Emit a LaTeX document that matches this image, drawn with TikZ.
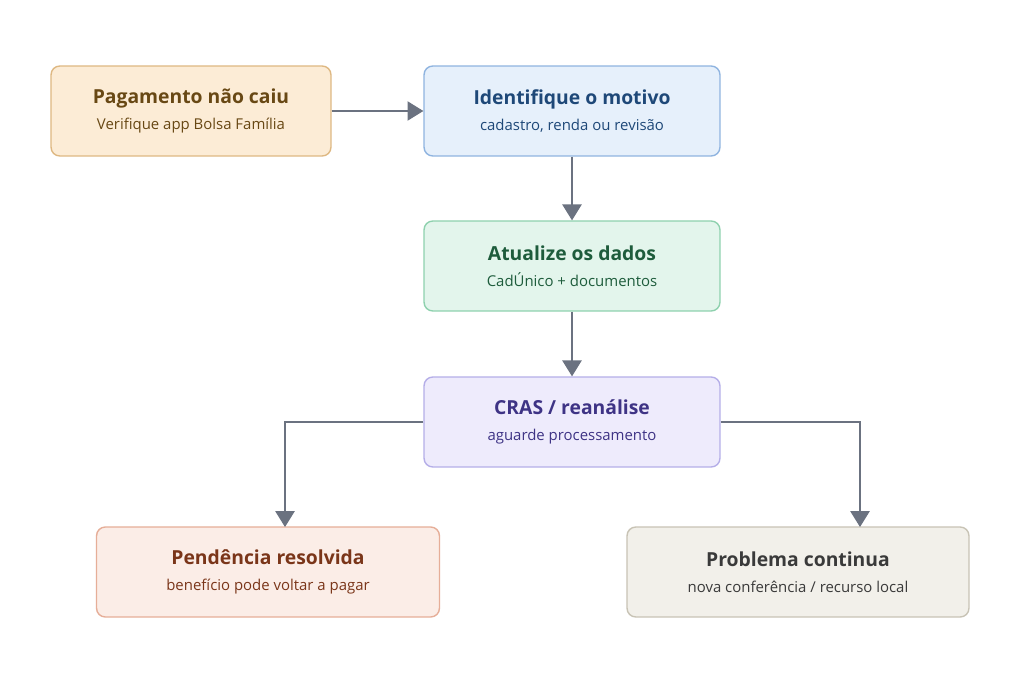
\documentclass[tikz,border=0pt]{standalone}
\usepackage{fontspec}
\setmainfont{Open Sans}
\usetikzlibrary{positioning}
\usetikzlibrary{arrows.meta}
\definecolor{arrowgray}{RGB}{107,114,128}
\definecolor{orfill}{RGB}{252,236,214}\definecolor{ordraw}{RGB}{222,184,130}\definecolor{ortext}{RGB}{104,72,20}
\definecolor{blfill}{RGB}{230,240,251}\definecolor{bldraw}{RGB}{143,180,224}\definecolor{bltext}{RGB}{30,72,120}
\definecolor{grfill}{RGB}{227,245,236}\definecolor{grdraw}{RGB}{142,209,174}\definecolor{grtext}{RGB}{30,92,60}
\definecolor{pufill}{RGB}{238,235,252}\definecolor{pudraw}{RGB}{181,174,232}\definecolor{putext}{RGB}{62,51,133}
\definecolor{pkfill}{RGB}{251,237,231}\definecolor{pkdraw}{RGB}{230,174,152}\definecolor{pktext}{RGB}{122,53,25}
\definecolor{bgfill}{RGB}{242,240,234}\definecolor{bgdraw}{RGB}{200,195,181}\definecolor{bgtext}{RGB}{58,58,58}
\tikzset{box/.style={rectangle,rounded corners=5pt,thick,minimum height=1.8cm,align=center,font=\fontsize{8.5}{13}\selectfont}}
\tikzset{flow/.style={arrowgray,semithick,-{Triangle[length=9pt,width=11pt]}}}
\newcommand{\boxtext}[3]{{\fontsize{11}{14}\selectfont\bfseries\color{#1}#2}\\[2pt]{\color{#1}#3}}
\begin{document}
\begin{tikzpicture}[x=0.02cm,y=-0.02cm]
  \useasboundingbox[fill=white] (0,0) rectangle (1024,682);
  % Boxes
  \node[box,fill=orfill,draw=ordraw,minimum width=5.6cm] (pay) at (191,111) {\boxtext{ortext}{Pagamento não caiu}{Verifique app Bolsa Família}};
  \node[box,fill=blfill,draw=bldraw,minimum width=5.92cm] (why) at (572,111) {\boxtext{bltext}{Identifique o motivo}{cadastro, renda ou revisão}};
  \node[box,fill=grfill,draw=grdraw,minimum width=5.92cm] (upd) at (572,266) {\boxtext{grtext}{Atualize os dados}{CadÚnico + documentos}};
  \node[box,fill=pufill,draw=pudraw,minimum width=5.92cm] (cras) at (572,422) {\boxtext{putext}{CRAS / reanálise}{aguarde processamento}};
  \node[box,fill=pkfill,draw=pkdraw,minimum width=6.86cm] (ok) at (268,572) {\boxtext{pktext}{Pendência resolvida}{benefício pode voltar a pagar}};
  \node[box,fill=bgfill,draw=bgdraw,minimum width=6.84cm] (fail) at (798,572) {\boxtext{bgtext}{Problema continua}{nova conferência / recurso local}};
  \coordinate (okin) at (285,527);
  \coordinate (failin) at (860,527);
  % Arrows
  \draw[flow] (pay) -- (why);
  \draw[flow] (why) -- (upd);
  \draw[flow] (upd) -- (cras);
  \draw[flow] (cras.west) -| (okin);
  \draw[flow] (cras.east) -| (failin);
\end{tikzpicture}
\end{document}
